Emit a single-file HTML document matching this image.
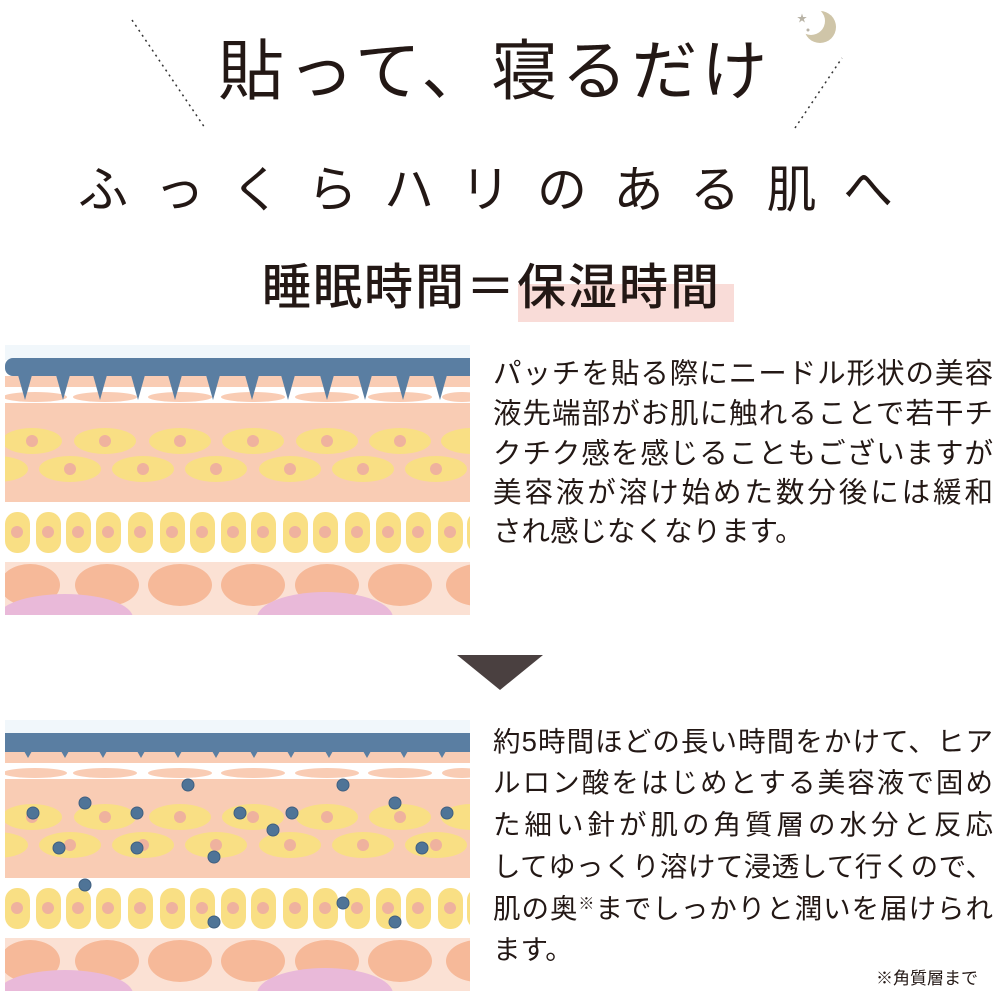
<!DOCTYPE html>
<html><head><meta charset="utf-8"><style>
html,body{margin:0;padding:0;background:#fff;}
body{width:1000px;height:1000px;position:relative;overflow:hidden;font-family:"Liberation Sans","Noto Sans CJK JP",sans-serif;color:#231815;}
.a{position:absolute;white-space:nowrap;}
.t1{left:218px;top:26px;font-size:66px;letter-spacing:4px;font-weight:400;line-height:90px;}
.t2{left:78px;top:152px;font-size:50px;letter-spacing:26.5px;font-weight:400;line-height:76px;}
.t3{left:262px;top:250px;font-size:49px;letter-spacing:2px;font-weight:500;line-height:76px;}
.hl{position:absolute;left:518px;top:284px;width:216px;height:38px;background:#f9dcd8;}
.ln{position:absolute;left:493px;width:500px;text-align:justify;text-align-last:justify;white-space:nowrap;}
.b1{font-size:28.5px;line-height:39.5px;}
.b2{font-size:27.5px;line-height:41.7px;}
</style></head><body>
<svg class="a" style="left:0;top:0" width="1000" height="1000">
<defs>
<clipPath id="cp" clipPathUnits="userSpaceOnUse"><rect x="5" y="376" width="465" height="239"/></clipPath>
<g id="skin" clip-path="url(#cp)">
<rect x="5" y="376" width="465" height="11" fill="#f9ccb4"/>
<g fill="#f9ccb4">
<ellipse cx="35" cy="397" rx="32" ry="5"/><ellipse cx="105" cy="397" rx="32" ry="5"/><ellipse cx="180" cy="397" rx="32" ry="5"/><ellipse cx="253" cy="397" rx="32" ry="5"/><ellipse cx="327" cy="397" rx="32" ry="5"/><ellipse cx="400" cy="397" rx="32" ry="5"/><ellipse cx="462" cy="397" rx="20" ry="5"/>
</g>
<rect x="5" y="403" width="465" height="99" fill="#f9ccb4"/>
<g fill="#f9df84">
<ellipse cx="32" cy="441" rx="30" ry="13"/><ellipse cx="105" cy="441" rx="31" ry="13"/><ellipse cx="180" cy="441" rx="31" ry="13"/><ellipse cx="253" cy="441" rx="31" ry="13"/><ellipse cx="327" cy="441" rx="31" ry="13"/><ellipse cx="400" cy="441" rx="31" ry="13"/><ellipse cx="472" cy="441" rx="31" ry="13"/>
<ellipse cx="-3" cy="469" rx="31" ry="13"/><ellipse cx="70" cy="469" rx="31" ry="13"/><ellipse cx="143" cy="469" rx="31" ry="13"/><ellipse cx="216" cy="469" rx="31" ry="13"/><ellipse cx="290" cy="469" rx="31" ry="13"/><ellipse cx="363" cy="469" rx="31" ry="13"/><ellipse cx="436" cy="469" rx="31" ry="13"/>
</g>
<g fill="#efb29e">
<circle cx="32" cy="441" r="6"/><circle cx="105" cy="441" r="6"/><circle cx="180" cy="441" r="6"/><circle cx="253" cy="441" r="6"/><circle cx="327" cy="441" r="6"/><circle cx="400" cy="441" r="6"/>
<circle cx="70" cy="469" r="6"/><circle cx="143" cy="469" r="6"/><circle cx="216" cy="469" r="6"/><circle cx="290" cy="469" r="6"/><circle cx="363" cy="469" r="6"/><circle cx="436" cy="469" r="6"/>
</g>
<g fill="#f9df84">
<rect x="5" y="512" width="25" height="41" rx="12"/><rect x="36" y="512" width="25" height="41" rx="12"/><rect x="66" y="512" width="25" height="41" rx="12"/><rect x="96" y="512" width="25" height="41" rx="12"/><rect x="128" y="512" width="25" height="41" rx="12"/><rect x="160" y="512" width="25" height="41" rx="12"/><rect x="190" y="512" width="25" height="41" rx="12"/><rect x="221" y="512" width="25" height="41" rx="12"/><rect x="251" y="512" width="25" height="41" rx="12"/><rect x="283" y="512" width="25" height="41" rx="12"/><rect x="313" y="512" width="25" height="41" rx="12"/><rect x="345" y="512" width="25" height="41" rx="12"/><rect x="376" y="512" width="25" height="41" rx="12"/><rect x="406" y="512" width="25" height="41" rx="12"/><rect x="438" y="512" width="25" height="41" rx="12"/><rect x="467" y="512" width="25" height="41" rx="12"/>
</g>
<g fill="#efb29e">
<circle cx="17" cy="532" r="6"/><circle cx="48" cy="532" r="6"/><circle cx="78" cy="532" r="6"/><circle cx="108" cy="532" r="6"/><circle cx="140" cy="532" r="6"/><circle cx="172" cy="532" r="6"/><circle cx="202" cy="532" r="6"/><circle cx="233" cy="532" r="6"/><circle cx="263" cy="532" r="6"/><circle cx="295" cy="532" r="6"/><circle cx="325" cy="532" r="6"/><circle cx="357" cy="532" r="6"/><circle cx="388" cy="532" r="6"/><circle cx="418" cy="532" r="6"/><circle cx="450" cy="532" r="6"/>
</g>
<rect x="5" y="562" width="465" height="53" fill="#fbe1d4"/>
<g fill="#f6b999">
<ellipse cx="30" cy="585" rx="30" ry="21"/><ellipse cx="107" cy="585" rx="32" ry="21"/><ellipse cx="180" cy="585" rx="32" ry="21"/><ellipse cx="253" cy="585" rx="32" ry="21"/><ellipse cx="327" cy="585" rx="32" ry="21"/><ellipse cx="400" cy="585" rx="32" ry="21"/><ellipse cx="478" cy="585" rx="32" ry="21"/>
</g>
<g fill="#e9b9d9">
<ellipse cx="65" cy="618" rx="68" ry="24"/><ellipse cx="325" cy="618" rx="68" ry="26"/>
</g>
</g>
</defs>
<line x1="132" y1="20" x2="205" y2="128" stroke="#333" stroke-width="1.5" stroke-dasharray="2,4"/>
<line x1="795" y1="128" x2="842" y2="58" stroke="#333" stroke-width="1.5" stroke-dasharray="2,4"/>
<circle cx="820" cy="27" r="16" fill="#cfc5a8"/>
<circle cx="811" cy="21" r="14" fill="#fff"/>
<text x="797" y="22" font-size="10" fill="#b8b3a6">★</text>
<circle cx="808" cy="30" r="1.5" fill="#b8b3a6"/>
<rect x="5" y="345" width="465" height="15" fill="#f1f7fb"/>
<use href="#skin"/>
<rect x="5" y="358" width="465" height="18" rx="8" fill="#5a7ea2"/>
<rect x="460" y="358" width="10" height="18" fill="#5a7ea2"/>
<g fill="#5a7ea2">
<polygon points="18,375 32,375 25,400"/><polygon points="56,375 70,375 63,400"/><polygon points="93,375 107,375 100,400"/><polygon points="131,375 145,375 138,400"/><polygon points="168,375 182,375 175,400"/><polygon points="206,375 220,375 213,400"/><polygon points="245,375 259,375 252,400"/><polygon points="281,375 295,375 288,400"/><polygon points="320,375 334,375 327,400"/><polygon points="358,375 372,375 365,400"/><polygon points="396,375 410,375 403,400"/><polygon points="433,375 447,375 440,400"/>
</g>
<polygon points="457,655 543,655 500,690" fill="#4a4040"/>
<rect x="5" y="720" width="465" height="15" fill="#f1f7fb"/>
<use href="#skin" transform="translate(0,376)"/>
<rect x="5" y="733" width="465" height="19" fill="#5a7ea2"/>
<g fill="#5a7ea2">
<polygon points="24,751 32,751 28,758"/><polygon points="61,751 69,751 65,758"/><polygon points="99,751 107,751 103,758"/><polygon points="137,751 145,751 141,758"/><polygon points="174,751 182,751 178,758"/><polygon points="212,751 220,751 216,758"/><polygon points="250,751 258,751 254,758"/><polygon points="287,751 295,751 291,758"/><polygon points="325,751 333,751 329,758"/><polygon points="363,751 371,751 367,758"/><polygon points="400,751 408,751 404,758"/><polygon points="438,751 446,751 442,758"/>
</g>
<g fill="#4f7497" stroke="#3f5f80" stroke-width="1">
<circle cx="188" cy="785" r="6"/><circle cx="343" cy="785" r="6"/><circle cx="85" cy="803" r="6"/><circle cx="395" cy="803" r="6"/><circle cx="33" cy="813" r="6"/><circle cx="137" cy="813" r="6"/><circle cx="240" cy="813" r="6"/><circle cx="292" cy="813" r="6"/><circle cx="447" cy="813" r="6"/><circle cx="273" cy="830" r="6"/><circle cx="59" cy="848" r="6"/><circle cx="137" cy="848" r="6"/><circle cx="422" cy="848" r="6"/><circle cx="214" cy="857" r="6"/><circle cx="85" cy="885" r="6"/><circle cx="343" cy="903" r="6"/><circle cx="214" cy="922" r="6"/><circle cx="395" cy="922" r="6"/>
</g>
</svg>
<div class="a t1">貼って、寝るだけ</div>
<div class="a t2">ふっくらハリのある肌へ</div>
<div class="hl"></div>
<div class="a t3">睡眠時間＝保湿時間</div>

<div class="ln b1" style="top:355px">パッチを貼る際にニードル形状の美容</div>
<div class="ln b1" style="top:395px">液先端部がお肌に触れることで若干チ</div>
<div class="ln b1" style="top:435px">クチク感を感じることもございますが</div>
<div class="ln b1" style="top:474px">美容液が溶け始めた数分後には緩和</div>
<div class="a b1" style="left:493px;top:513px">され感じなくなります。</div>

<div class="ln b2" style="top:721px">約5時間ほどの長い時間をかけて、ヒア</div>
<div class="ln b2" style="top:762px">ルロン酸をはじめとする美容液で固め</div>
<div class="ln b2" style="top:804px">た細い針が肌の角質層の水分と反応</div>
<div class="ln b2" style="top:846px">してゆっくり溶けて浸透して行くので、</div>
<div class="ln b2" style="top:888px">肌の奥<span style="font-size:16px;line-height:0;vertical-align:9px">※</span>までしっかりと潤いを届けられ</div>
<div class="a b2" style="left:493px;top:929px">ます。</div>
<div class="a" style="left:876px;top:968px;font-size:17px;line-height:22px;">※角質層まで</div>
</body></html>
